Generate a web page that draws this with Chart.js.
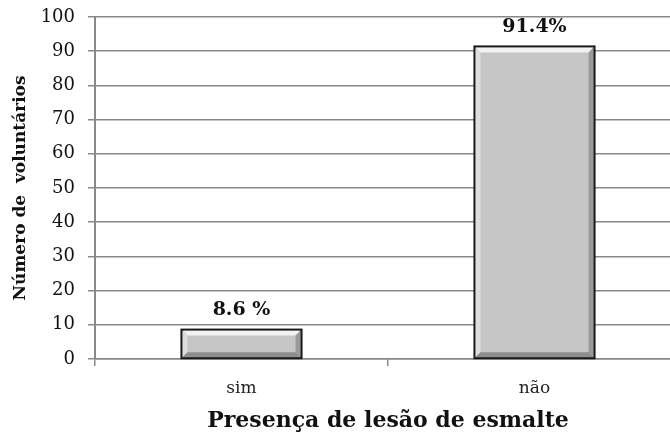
<!DOCTYPE html>
<html lang="pt">
<head>
  <meta charset="UTF-8">
  <title>Presença de lesão de esmalte</title>
  <style>
    * { box-sizing: border-box; margin: 0; padding: 0; }
    html, body { width: 670px; height: 434px; overflow: hidden; background: #fff; }
    .wrap { width: 684px; height: 434px; }
  </style>
</head>
<body>
  <div class="wrap"><canvas id="chart"></canvas></div>

  <script src="https://cdn.jsdelivr.net/npm/chart.js"></script>
  <script>
    const categories = ['sim', 'não'];
    const volunteers = [8.6, 91.4];
    const barLabels = ['8.6 %', '91.4%'];
    const yTicks = [0, 10, 20, 30, 40, 50, 60, 70, 80, 90, 100];

    const serif = '"DejaVu Serif", "Liberation Serif", serif';
    const grey = '#888888';

    // bevelled look + value labels drawn on the bar elements
    const bevel = {
      id: 'bevel',
      afterDatasetsDraw(chart) {
        const ctx = chart.ctx;
        chart.getDatasetMeta(0).data.forEach((bar, i) => {
          const l = bar.x - bar.width / 2, r = bar.x + bar.width / 2;
          const t = bar.y, b = bar.base;
          const e = Math.min(6, (b - t) / 3);
          ctx.save();
          const poly = (pts, c) => {
            ctx.beginPath();
            ctx.moveTo(pts[0][0], pts[0][1]);
            pts.slice(1).forEach(p => ctx.lineTo(p[0], p[1]));
            ctx.closePath();
            ctx.fillStyle = c;
            ctx.fill();
          };
          poly([[l, t], [r, t], [r - e, t + e], [l + e, t + e]], '#f2f2f2');
          poly([[l, t], [l + e, t + e], [l + e, b - e], [l, b]], '#dedede');
          poly([[r, t], [r, b], [r - e, b - e], [r - e, t + e]], '#9a9a9a');
          poly([[l, b], [l + e, b - e], [r - e, b - e], [r, b]], '#8e8e8e');
          ctx.lineWidth = 2;
          ctx.strokeStyle = '#1a1a1a';
          ctx.strokeRect(l, t, r - l, b - t);

          ctx.fillStyle = '#111';
          ctx.font = 'bold 19px ' + serif;
          ctx.textAlign = 'center';
          ctx.textBaseline = 'bottom';
          ctx.fillText(barLabels[i], bar.x, t - 10);
          ctx.restore();
        });
      }
    };

    new Chart(document.getElementById('chart'), {
      type: 'bar',
      data: {
        labels: categories,
        datasets: [{
          data: volunteers,
          backgroundColor: '#c6c6c6',
          borderColor: '#1a1a1a',
          borderWidth: 2,
          barPercentage: 0.82,
          categoryPercentage: 0.5
        }]
      },
      options: {
        responsive: true,
        maintainAspectRatio: false,
        animation: false,
        layout: { padding: { top: 17, right: 3 } },
        plugins: {
          legend: { display: false },
          tooltip: { enabled: false }
        },
        scales: {
          x: {
            afterFit(s) { s.height = 75; },
            grid: {
              drawOnChartArea: false,
              color: grey,
              lineWidth: 1.5,
              tickLength: 7
            },
            border: { color: grey, width: 1.5 },
            ticks: { color: '#222', padding: 12, font: { family: serif, size: 17 } },
            title: {
              display: true,
              text: 'Presença de lesão de esmalte',
              color: '#111',
              padding: { top: 0, bottom: 0 },
              font: { family: serif, size: 22, weight: 'bold' }
            }
          },
          y: {
            min: 0,
            max: 100,
            afterFit(s) {
              s.width = 95;
              s.paddingTop = 0;
              s.paddingBottom = 0;
            },
            afterBuildTicks(s) { s.ticks = yTicks.map(v => ({ value: v })); },
            grid: { color: grey, lineWidth: 1.5, tickLength: 7 },
            border: { color: grey, width: 2 },
            ticks: { color: '#111', padding: 13, font: { family: serif, size: 18 } },
            title: {
              display: true,
              text: 'Número de  voluntários',
              color: '#111',
              padding: { top: 10, bottom: 0 },
              font: { family: serif, size: 17, weight: 'bold' }
            }
          }
        }
      },
      plugins: [bevel]
    });
  </script>
</body>
</html>
